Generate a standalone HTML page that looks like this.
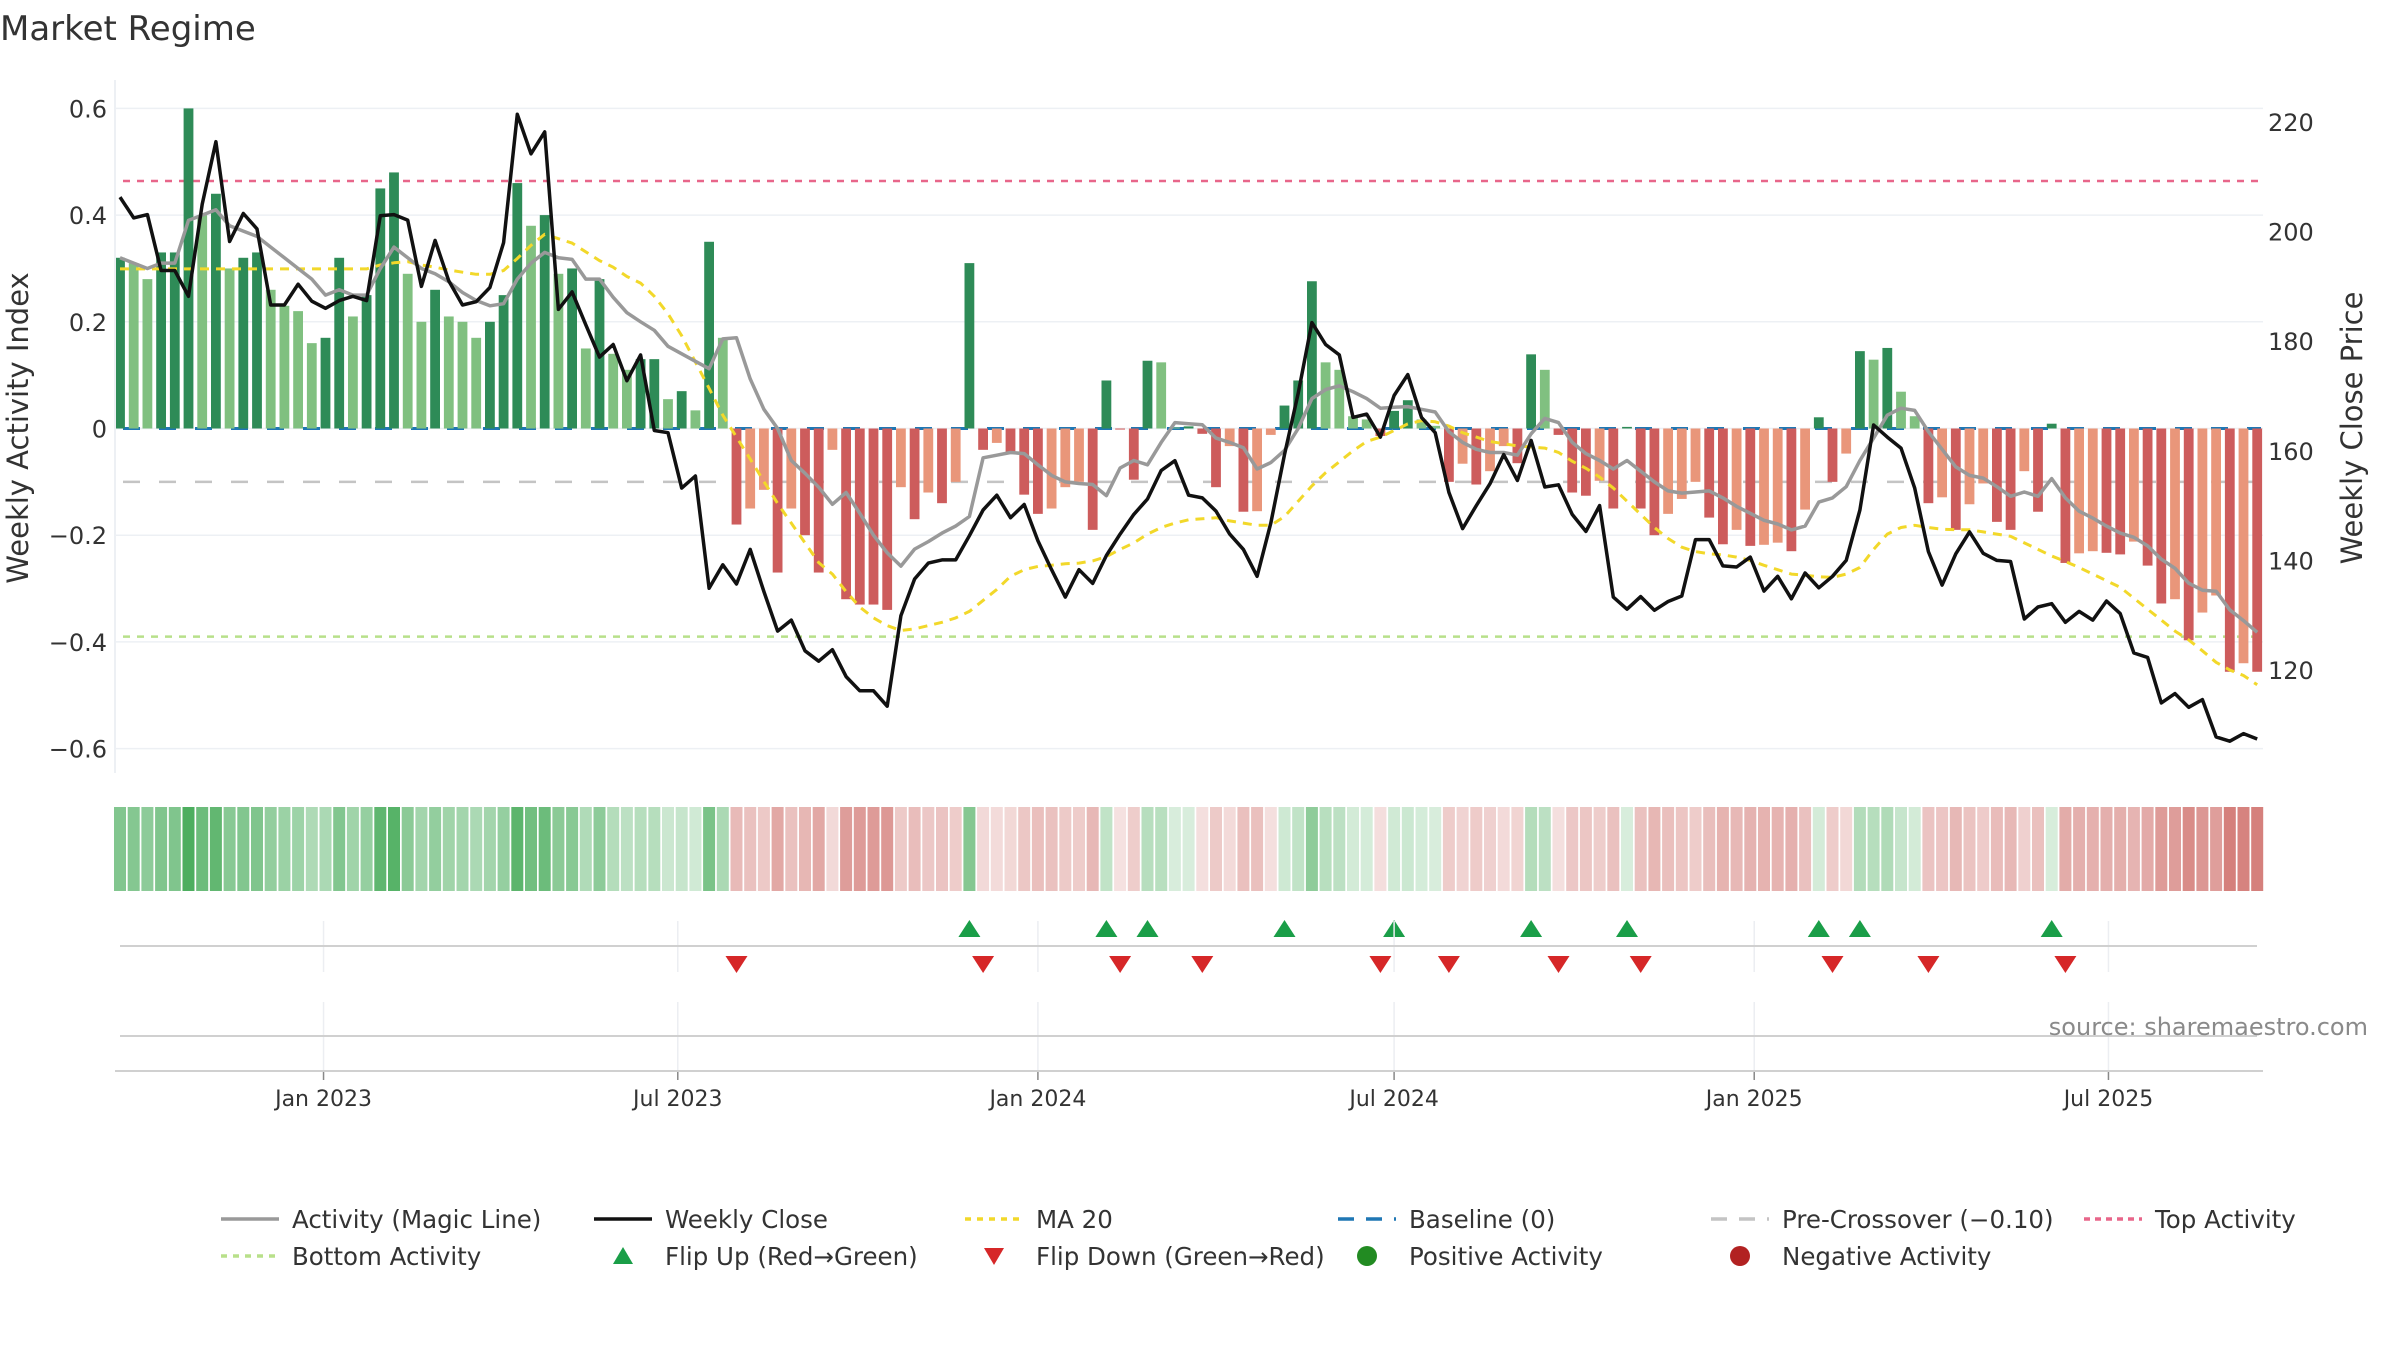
<!DOCTYPE html>
<html><head><meta charset="utf-8"><title>Market Regime</title>
<style>
html,body{margin:0;padding:0;background:#fff;}
svg{display:block;font-family:"DejaVu Sans","Liberation Sans",sans-serif;}
</style></head>
<body>
<svg id="chart" width="2400" height="1350" viewBox="0 0 2400 1350" xmlns="http://www.w3.org/2000/svg">
<text x="0" y="40" font-size="34" fill="#333">Market Regime</text>
<g id="grid"></g>
<g id="refs"></g>
<g id="bars"></g>
<g id="lines"></g>
<g id="axes"></g>
<g id="strip"></g>
<g id="flips"></g>
<g id="xaxis"></g>
<text transform="translate(28,428) rotate(-90)" text-anchor="middle" font-size="29" fill="#333">Weekly Activity Index</text>
<text transform="translate(2362,428) rotate(-90)" text-anchor="middle" font-size="29" fill="#333">Weekly Close Price</text>
<text x="2368" y="1035" text-anchor="end" font-size="24" fill="#8a8a8a">source: sharemaestro.com</text>
<g id="legend"></g>
</svg>
<script>
const activity = [0.32,0.31,0.28,0.33,0.33,0.60,0.40,0.44,0.30,0.32,0.33,0.26,0.23,0.22,0.16,0.17,0.32,0.21,0.25,0.45,0.48,0.29,0.20,0.26,0.21,0.20,0.17,0.20,0.25,0.46,0.38,0.40,0.29,0.30,0.15,0.28,0.14,0.11,0.13,0.13,0.055,0.07,0.034,0.35,0.17,-0.18,-0.15,-0.115,-0.27,-0.15,-0.20,-0.27,-0.04,-0.32,-0.33,-0.33,-0.34,-0.11,-0.17,-0.12,-0.14,-0.10,0.31,-0.04,-0.027,-0.047,-0.124,-0.16,-0.15,-0.11,-0.10,-0.19,0.09,-0.002,-0.096,0.127,0.124,0.002,0.004,-0.01,-0.11,-0.033,-0.156,-0.155,-0.012,0.043,0.09,0.276,0.124,0.11,0.023,0.017,-0.014,0.033,0.053,0.017,0.005,-0.10,-0.066,-0.105,-0.08,-0.033,-0.065,0.139,0.11,-0.012,-0.12,-0.126,-0.098,-0.15,0.003,-0.15,-0.20,-0.16,-0.132,-0.10,-0.167,-0.217,-0.19,-0.22,-0.218,-0.214,-0.23,-0.152,0.021,-0.10,-0.047,0.145,0.129,0.151,0.069,0.023,-0.14,-0.129,-0.19,-0.142,-0.103,-0.175,-0.19,-0.08,-0.156,0.009,-0.252,-0.234,-0.23,-0.233,-0.236,-0.212,-0.257,-0.328,-0.32,-0.397,-0.345,-0.313,-0.456,-0.44,-0.456];
const magicLine = [0.32,0.31,0.30,0.31,0.31,0.39,0.40,0.41,0.38,0.37,0.36,0.34,0.32,0.30,0.28,0.25,0.26,0.25,0.25,0.30,0.34,0.32,0.30,0.29,0.275,0.255,0.24,0.23,0.234,0.28,0.31,0.33,0.32,0.317,0.28,0.28,0.246,0.217,0.20,0.184,0.154,0.14,0.126,0.112,0.168,0.17,0.093,0.036,0.0,-0.06,-0.084,-0.11,-0.142,-0.12,-0.159,-0.20,-0.233,-0.258,-0.226,-0.212,-0.196,-0.183,-0.165,-0.055,-0.05,-0.045,-0.047,-0.068,-0.088,-0.10,-0.103,-0.105,-0.126,-0.074,-0.06,-0.068,-0.026,0.011,0.009,0.007,-0.018,-0.026,-0.036,-0.076,-0.064,-0.041,0.0,0.056,0.073,0.08,0.069,0.056,0.038,0.04,0.041,0.036,0.031,-0.006,-0.026,-0.039,-0.045,-0.045,-0.05,-0.01,0.019,0.011,-0.026,-0.047,-0.06,-0.076,-0.06,-0.08,-0.10,-0.117,-0.121,-0.119,-0.117,-0.13,-0.146,-0.159,-0.172,-0.179,-0.19,-0.183,-0.138,-0.13,-0.109,-0.06,-0.018,0.025,0.038,0.034,-0.006,-0.039,-0.072,-0.088,-0.093,-0.109,-0.127,-0.119,-0.127,-0.094,-0.13,-0.155,-0.168,-0.183,-0.196,-0.204,-0.22,-0.245,-0.262,-0.29,-0.303,-0.305,-0.34,-0.36,-0.382];
const weeklyClose = [206.3,202.5,203.1,192.9,192.9,188.2,205,216.4,198.2,203.3,200.5,186.6,186.6,190.4,187.3,186,187.4,188.2,187.4,202.9,203.1,202.1,190,198.4,191,186.6,187.2,189.8,198,221.4,214.2,218.2,185.8,189,183,177.1,179.4,172.8,177.5,163.7,163.3,153.2,155.4,134.9,139.2,135.7,142,134.3,127.1,129.1,123.5,121.6,123.7,118.8,116.2,116.2,113.4,129.9,136.6,139.5,140.1,140.1,144.5,149.2,151.9,147.8,150.2,143.6,138.3,133.3,138.3,135.8,140.9,144.8,148.4,151.2,156.4,158.2,151.9,151.4,149,144.8,142,137.1,146.8,159.3,170.5,183.4,179.4,177.5,166.1,166.7,162.5,170.1,173.9,166.1,163.3,152.4,145.8,150,154,159.3,154.6,161.9,153.4,153.8,148.4,145.3,150,133.3,131.1,133.4,130.9,132.5,133.5,143.8,143.8,139,138.8,140.6,134.4,137.1,133,137.7,135,137.1,140,149.2,164.7,162.5,160.5,153.2,141.6,135.5,141.2,145.2,141.3,140,139.8,129.3,131.5,132.1,128.7,130.7,129.1,132.6,130.3,123.1,122.3,114,115.7,113.2,114.6,107.8,107,108.4,107.4];
const ma20 = [193.2,193.2,193.2,193.2,193.2,193.2,193.2,193.2,193.2,193.2,193.2,193.2,193.2,193.2,193.2,193.2,193.2,193.2,193.2,193.9,194.3,194.5,193.9,193.5,193.0,192.6,192.2,192.2,192.9,195.1,197.5,199.5,198.7,197.9,196.3,194.7,193.5,191.8,190.6,188.2,185,181,176.2,171.4,166.5,162.5,158.5,154.4,150.4,146.8,143.2,139.6,137.5,134.3,131.5,129.5,128.1,127.2,127.5,128.1,128.7,129.5,130.7,132.7,134.7,137.1,138.3,138.9,139.1,139.4,139.5,139.9,140.7,142,143.2,144.8,146,146.8,147.4,147.6,147.8,147.2,146.8,146.4,146.4,148,150.8,153.6,156,158,160,161.7,162.5,163.7,164.9,165.5,165.3,164.5,163.3,162.5,161.7,161.3,160.9,160.7,160.5,159.7,158.1,156.8,155.2,153.2,150.8,148.4,146,144,142.4,141.6,141.2,141,140.6,140,139.1,138.3,137.5,137.3,137,136.9,137.5,138.7,142,144.8,146,146.4,146,145.7,145.6,145.6,145.2,144.8,144.4,143.2,142,140.8,139.8,138.7,137.5,136.3,135.1,133.1,131.1,129.1,127.1,125.5,123.5,121.4,120,119,117.3];
const leftTicks = [0.6,0.4,0.2,0,-0.2,-0.4,-0.6];
const leftTickLabels = ["0.6","0.4","0.2","0","\u22120.2","\u22120.4","\u22120.6"];
const rightTicks = [220,200,180,160,140,120];
const xTickDates = ["2023-01-01","2023-07-01","2024-01-01","2024-07-01","2025-01-01","2025-07-01"];
const xTickLabels = ["Jan 2023","Jul 2023","Jan 2024","Jul 2024","Jan 2025","Jul 2025"];
const topActivity = 0.464, bottomActivity = -0.39, preCross = -0.10, baseline = 0;
const startDate = "2022-09-19";

const NS="http://www.w3.org/2000/svg";
const L=115, R=2263, T=80, B=773;
const BAR0=120, STEP=13.7;
const DAY=86400000, t0=Date.parse(startDate);
function xIdx(i){return BAR0+i*STEP;}
function xDate(s){return BAR0+(Date.parse(s)-t0)/(7*DAY)*STEP;}
function yV(v){return 428.5-v*533.5;}
function yP(p){return 122+(220-p)*5.48;}
function mk(tag,attrs,parent){const e=document.createElementNS(NS,tag);for(const k in attrs)e.setAttribute(k,attrs[k]);parent.appendChild(e);return e;}
const g=id=>document.getElementById(id);

leftTicks.forEach((v,i)=>{
  const ln=mk('line',{x1:L,x2:R,y1:yV(v),y2:yV(v),stroke:'#edf0f4','stroke-width':1.5},g('grid'));
  
  
  const t=mk('text',{x:107,y:yV(v)+9,'text-anchor':'end','font-size':24,fill:'#333'},g('axes'));
  t.textContent=leftTickLabels[i];
  
  
});
rightTicks.forEach(p=>{
  const t=mk('text',{x:2268,y:yP(p)+9,'font-size':24,fill:'#333'},g('axes'));
  t.textContent=String(p);
  
  
});
const sp=mk('line',{x1:L,x2:L,y1:T,y2:B,stroke:'#edf0f4','stroke-width':2},g('axes'));



function refLine(v,color,dash,w,name){
  const ln=mk('line',{x1:L+8,x2:R-2,y1:yV(v),y2:yV(v),stroke:color,'stroke-width':w,'stroke-dasharray':dash},g('refs'));
  
  
}
refLine(topActivity,'#e8668a','7 7',2.5,'top-activity-line');
refLine(bottomActivity,'#b8e08a','7 7',2.5,'bottom-activity-line');
refLine(preCross,'#c4c4c4','17 19',2.5,'pre-crossover-line');

activity.forEach((v,i)=>{
  const prev=i>0?activity[i-1]:0;
  let col;
  if(v>=0){col=(i===0||v>=prev||prev<0)?'#2e8b57':'#80c080';}
  else{col=(v<=prev||prev>0)?'#cd5c5c':'#e9967a';}
  const y0=yV(0), y1=yV(v);
  const r=mk('rect',{x:xIdx(i)-4.9,y:Math.min(y0,y1),width:9.8,height:Math.max(0.8,Math.abs(y1-y0)),fill:col},g('bars'));
  
  
});
refLine(baseline,'#1f77b4','17 19',3,'baseline-line');

function poly(arr,fy,color,w,dash,name){
  const pts=arr.map((v,i)=>xIdx(i).toFixed(1)+','+fy(v).toFixed(1)).join(' ');
  const p=mk('polyline',{points:pts,fill:'none',stroke:color,'stroke-width':w,'stroke-linejoin':'round'},g('lines'));
  if(dash)p.setAttribute('stroke-dasharray',dash);
  
  
}
poly(ma20,yP,'#f2d82a',3,'9 7','ma20-line');
poly(magicLine,yV,'#999999',3.5,null,'magic-line');
poly(weeklyClose,yP,'#111111',3.5,null,'weekly-close-line');

activity.forEach((v,i)=>{
  const op=Math.min(0.85,0.18+Math.abs(v)*1.3);
  const r=mk('rect',{x:xIdx(i)-6,y:807,width:12,height:84,fill:v>=0?'#2ea043':'#c85a55','fill-opacity':op},g('strip'));
  
  
});

xTickDates.forEach((d,i)=>{
  const x=xDate(d);
  const a=mk('line',{x1:x,x2:x,y1:921,y2:972,stroke:'#eceef2','stroke-width':1.5},g('xaxis'));
  
  
  const b=mk('line',{x1:x,x2:x,y1:1002,y2:1071,stroke:'#eceef2','stroke-width':1.5},g('xaxis'));
  
  
  const tk=mk('line',{x1:x,x2:x,y1:1072,y2:1080,stroke:'#888','stroke-width':1.5},g('xaxis'));
  
  
  const t=mk('text',{x:x,y:1106,'text-anchor':'middle','font-size':22,fill:'#333'},g('xaxis'));
  t.textContent=xTickLabels[i];
  
  
});
[[120,946,2257,'marker-axis-line'],[120,1036,2257,'lower-panel-line'],[115,1071,2263,'x-axis-line']].forEach(a=>{
  const ln=mk('line',{x1:a[0],x2:a[2],y1:a[1],y2:a[1],stroke:'#d0d0d0','stroke-width':2},g('xaxis'));
  
  
});

for(let i=1;i<activity.length;i++){
  const a=activity[i-1],b=activity[i],x=xIdx(i);
  if(a<0&&b>=0){
    const p=mk('polygon',{points:`${x-11},937 ${x+11},937 ${x},920`,fill:'#1a9e48'},g('flips'));
    
    
  } else if(a>=0&&b<0){
    const p=mk('polygon',{points:`${x-11},956 ${x+11},956 ${x},973`,fill:'#d62728'},g('flips'));
    
    
  }
}

const lg=g('legend');
function legItem(x,y,label,kind,color,dash){
  const grp=mk('g',{},lg);
  
  
  if(kind==='line'){mk('line',{x1:x,x2:x+58,y1:y,y2:y,stroke:color,'stroke-width':3.5,'stroke-dasharray':dash||'none'},grp);}
  else if(kind==='up'){mk('polygon',{points:`${x+19},${y+8} ${x+39},${y+8} ${x+29},${y-9}`,fill:color},grp);}
  else if(kind==='down'){mk('polygon',{points:`${x+19},${y-8} ${x+39},${y-8} ${x+29},${y+9}`,fill:color},grp);}
  else {mk('circle',{cx:x+29,cy:y,r:10,fill:color},grp);}
  const t=mk('text',{x:x+71,y:y+9,'font-size':24.5,fill:'#333'},grp);
  t.textContent=label;
}
legItem(221,1219,'Activity (Magic Line)','line','#999');
legItem(594,1219,'Weekly Close','line','#111');
legItem(965,1219,'MA 20','line','#f2d82a','6 6');
legItem(1338,1219,'Baseline (0)','line','#1f77b4','16 12');
legItem(1711,1219,'Pre-Crossover (\u22120.10)','line','#c4c4c4','16 12');
legItem(2084,1219,'Top Activity','line','#e8668a','6 5');
legItem(221,1256,'Bottom Activity','line','#b8e08a','6 6');
legItem(594,1256,'Flip Up (Red\u2192Green)','up','#1a9e48');
legItem(965,1256,'Flip Down (Green\u2192Red)','down','#d62728');
legItem(1338,1256,'Positive Activity','dot','#228b22');
legItem(1711,1256,'Negative Activity','dot','#b22222');
</script>
</body></html>
